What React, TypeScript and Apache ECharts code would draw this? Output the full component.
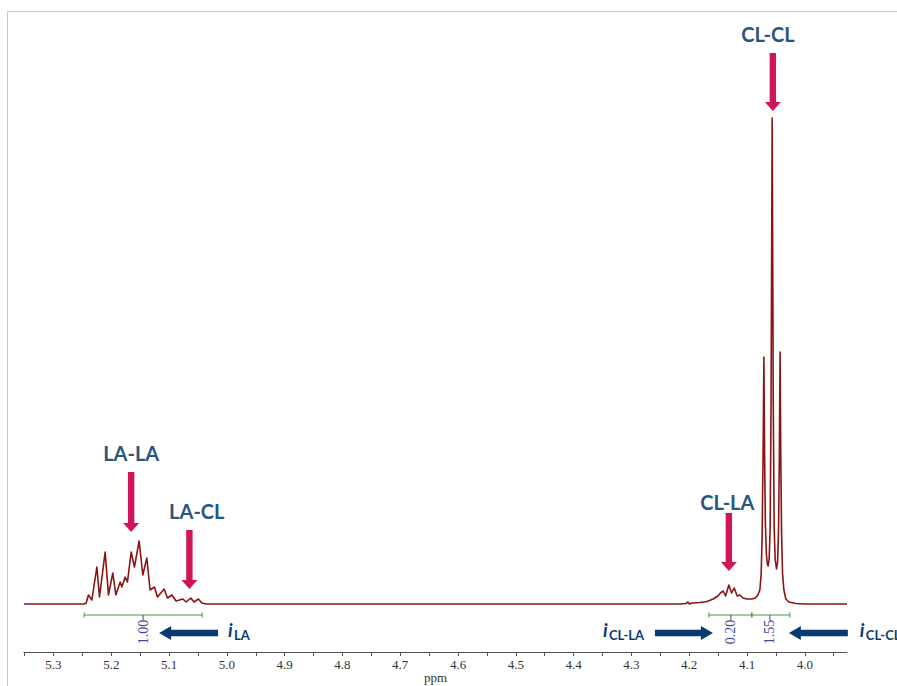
import React, { useEffect, useRef } from "react";
import * as echarts from "echarts";

// Spectrum: [ppm, intensity (a.u.)]
const spectrumPoints: [number, number][] = [
  [5.351, 0], [5.2469, 0], [5.2434, 1], [5.2395, 9], [5.2336, 4], [5.2249, 37], [5.2204, 7],
  [5.2106, 52], [5.2049, 9], [5.1973, 31], [5.1921, 9], [5.1846, 22], [5.1817, 17], [5.176, 27],
  [5.172, 22], [5.1656, 52], [5.1599, 37], [5.1518, 63], [5.1454, 29], [5.1385, 46], [5.1328, 14],
  [5.1253, 17], [5.1201, 7], [5.1085, 15], [5.1028, 6], [5.0952, 9], [5.0878, 3], [5.0762, 5],
  [5.0705, 2], [5.0624, 6], [5.0567, 2], [5.0492, 5], [5.0433, 1], [5.0359, 0],
  [4.2161, 0], [4.2057, 0.5], [4.2023, 2], [4.1997, 0], [4.1954, 1], [4.1815, 1.5], [4.1694, 2.5],
  [4.1585, 5], [4.1504, 8], [4.1461, 11], [4.1412, 13], [4.1371, 8], [4.1314, 19], [4.1267, 11],
  [4.1222, 16], [4.117, 8], [4.1123, 9], [4.1072, 6], [4.1002, 5], [4.0916, 5], [4.0855, 6],
  [4.0812, 9], [4.0778, 14], [4.0755, 30], [4.0738, 70], [4.0722, 150], [4.0708, 247], [4.0696, 150],
  [4.0682, 80], [4.0665, 50], [4.0648, 40], [4.0634, 38], [4.0617, 45], [4.06, 75], [4.0584, 200],
  [4.0575, 330], [4.0565, 486], [4.0554, 330], [4.0546, 200], [4.053, 75], [4.0513, 45], [4.049, 35],
  [4.0471, 42], [4.0454, 75], [4.044, 150], [4.0428, 252], [4.0416, 150], [4.0402, 70], [4.0385, 30],
  [4.0362, 14], [4.0328, 5], [4.0276, 2], [4.0155, 0.5], [4.0, 0], [3.927, 0],
];

const tickLabels = [5.3, 5.2, 5.1, 5.0, 4.9, 4.8, 4.7, 4.6, 4.5, 4.4, 4.3, 4.2, 4.1, 4.0];
const tickMarks = [5.35, 5.3, 5.25, 5.2, 5.15, 5.1, 5.05, 5.0, 4.95, 4.9, 4.85, 4.8, 4.75, 4.7, 4.65,
  4.6, 4.55, 4.5, 4.45, 4.4, 4.35, 4.3, 4.25, 4.2, 4.15, 4.1, 4.05, 4.0, 3.95];

// Peak assignment labels: [text, ppm, height]
const peakLabels: [string, number, number][] = [
  ["LA-LA", 5.1656, 151], ["LA-CL", 5.052, 93], ["CL-LA", 4.134, 102], ["CL-CL", 4.0639, 570],
];
// Down arrows: [ppm, top height, tip height]
const peakArrows: [number, number, number][] = [
  [5.1656, 132, 72], [5.0648, 74, 15], [4.1314, 91, 33], [4.0553, 551, 493],
];
// Integrals: [from ppm, to ppm, marker ppm, value]
const integrals: [number, number, number, string][] = [
  [5.2469, 5.0428, 5.1449, "1.00"], [4.166, 4.0916, 4.1279, "0.20"], [4.0916, 4.0259, 4.0605, "1.55"],
];
const integralLevel = -11;
// Integral arrows: [tail ppm, tip ppm, label i ppm, label sub ppm, subscript]
const integralArrows: [number, number, number, number, string][] = [
  [5.0152, 5.1172, 4.9979, 4.9875, "LA"],
  [4.2593, 4.159, 4.3493, 4.3389, "CL-LA"],
  [3.9255, 4.0276, 3.9048, 3.8944, "CL-CL"],
];
const arrowLevel = -29;

export default function App() {
  const ref = useRef<HTMLDivElement>(null);
  useEffect(() => {
    const chart = echarts.init(ref.current!, null, { renderer: "svg" });
    chart.setOption({
      animation: false,
      grid: { left: 24, right: 50, top: 4, bottom: 34, containLabel: false, outerBoundsMode: "none" },
      xAxis: {
        type: "value", inverse: true, min: 3.927, max: 5.351,
        name: "ppm", nameLocation: "middle", nameGap: 19, nameMoveOverlap: false,
        nameTextStyle: { fontFamily: "Liberation Serif", fontSize: 13, color: "#333" },
        axisLine: { onZero: false, lineStyle: { color: "#555", width: 1.2 } },
        axisTick: { customValues: tickMarks, length: 4, lineStyle: { color: "#555" } },
        axisLabel: {
          customValues: tickLabels, margin: 6, fontFamily: "Liberation Serif", fontSize: 13, color: "#333",
          formatter: (v: number) => v.toFixed(1),
        },
        splitLine: { show: false },
      },
      yAxis: { type: "value", min: -48, max: 600, show: false, splitLine: { show: false } },
      series: [{
        type: "line", data: spectrumPoints, symbol: "none", showSymbol: false,
        lineStyle: { color: "#8a1414", width: 1.6, join: "round" },
      }],
    });
    const px = (p: number, h: number) => chart.convertToPixel({ gridIndex: 0 }, [p, h]) as number[];
    const g: any[] = [];
    g.push({ type: "rect", silent: true, shape: { x: 7.5, y: 11.5, width: 1000, height: 1000 }, style: { fill: "none", stroke: "#c8c8c8", lineWidth: 1 } });
    const pink = "#d2145a";
    peakArrows.forEach(([p, h0, h1]) => {
      const [x, y0] = px(p, h0); const y1 = px(p, h1)[1];
      const w = 3.2, hw = 8, hl = 9;
      g.push({ type: "polygon", shape: { points: [[x - w, y0], [x + w, y0], [x + w, y1 - hl], [x + hw, y1 - hl], [x, y1], [x - hw, y1 - hl], [x - w, y1 - hl]] }, style: { fill: pink } });
    });
    peakLabels.forEach(([t, p, h]) => {
      const [x, y] = px(p, h);
      g.push({ type: "text", x, y, style: { text: t, font: "bold 20px Lato", fill: "#2b557f", align: "center", verticalAlign: "middle", textAlign: "center", textVerticalAlign: "middle" } });
    });
    const green = "#3c9a3c"; const purple = "#44449a";
    integrals.forEach(([a, b, m, v]) => {
      const [xa, y] = px(a, integralLevel); const xb = px(b, integralLevel)[0]; const xm = px(m, integralLevel)[0];
      g.push({ type: "line", shape: { x1: xa, y1: y, x2: xb, y2: y }, style: { stroke: green, lineWidth: 1 } });
      [xa, xb].forEach((x) => g.push({ type: "line", shape: { x1: x, y1: y - 2.5, x2: x, y2: y + 2.5 }, style: { stroke: green, lineWidth: 1 } }));
      g.push({ type: "line", shape: { x1: xm, y1: y, x2: xm, y2: y + 5 }, style: { stroke: purple, lineWidth: 1 } });
      g.push({ type: "text", x: xm, y: y + 17, rotation: Math.PI / 2, style: { text: v, font: "14px 'Liberation Serif'", fill: purple, align: "center", verticalAlign: "middle", textAlign: "center", textVerticalAlign: "middle" } });
    });
    const navy = "#0b3b6e";
    integralArrows.forEach(([tail, tip, pi, ps, sub]) => {
      const [xt, y] = px(tail, arrowLevel); const xh = px(tip, arrowLevel)[0];
      const dir = xh > xt ? 1 : -1; const w = 3.2, hw = 7, hl = 12;
      const xb = xh - dir * hl;
      g.push({ type: "polygon", shape: { points: [[xt, y - w], [xb, y - w], [xb, y - hw], [xh, y], [xb, y + hw], [xb, y + w], [xt, y + w]] }, style: { fill: navy } });
      const xi = px(pi, arrowLevel)[0]; const xs = px(ps, arrowLevel)[0];
      g.push({ type: "text", x: xi, y: y - 4, style: { text: "i", font: "italic bold 19px Lato", fill: navy, align: "left", verticalAlign: "middle", textAlign: "left", textVerticalAlign: "middle" } });
      g.push({ type: "text", x: xs, y: y + 2, style: { text: sub, font: "bold 13px Lato", fill: navy, align: "left", verticalAlign: "middle", textAlign: "left", textVerticalAlign: "middle" } });
    });
    chart.setOption({ graphic: g });
    return () => chart.dispose();
  }, []);
  return <div ref={ref} style={{ position: "fixed", left: 0, top: 0, width: 897, height: 686, background: "#fff" }} />;
}
